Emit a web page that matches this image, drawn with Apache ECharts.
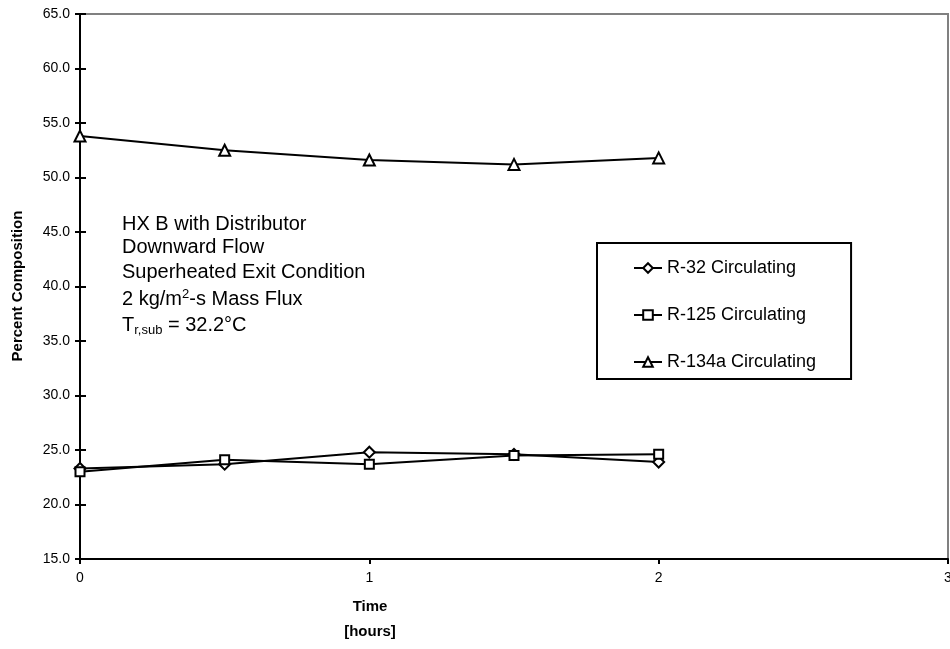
<!DOCTYPE html>
<html>
<head>
<meta charset="utf-8">
<script src="https://cdn.jsdelivr.net/npm/echarts@6/dist/echarts.min.js"></script>
<style>html,body{margin:0;padding:0;background:#fff}#c{width:950px;height:649px}</style>
</head>
<body>
<div id="c"></div>
<script>
const timeHours = [0, 0.5, 1, 1.5, 2];
const r32 = [23.3, 23.7, 24.8, 24.6, 23.9];
const r125 = [23.0, 24.1, 23.7, 24.5, 24.6];
const r134a = [53.8, 52.5, 51.6, 51.2, 51.8];
const seriesNames = ['R-32 Circulating', 'R-125 Circulating', 'R-134a Circulating'];
const seriesSymbols = ['diamond', 'rect', 'triangle'];
const seriesValues = [r32, r125, r134a];
const noteLines = ['HX B with Distributor', 'Downward Flow', 'Superheated Exit Condition', '2 kg/m{sup|2}-s Mass Flux', 'T{sub|r,sub} = 32.2°C'];

const FONT = 'Liberation Sans, Arial, sans-serif';
const chart = echarts.init(document.getElementById('c'));

const series = seriesNames.map((n, i) => ({
  name: n,
  type: 'line',
  data: timeHours.map((t, j) => [t, seriesValues[i][j]]),
  symbol: seriesSymbols[i],
  symbolSize: seriesSymbols[i] === 'rect' ? 9 : 11,
  lineStyle: {color: '#000', width: 2},
  itemStyle: {color: '#fff', borderColor: '#000', borderWidth: 2},
  animation: false,
  z: 3
}));

const noteY = [224, 247, 272, 299, 325];
const graphics = noteLines.map((s, i) => ({
  type: 'text', x: 122, y: noteY[i],
  style: {
    text: s, fill: '#000', font: '20px ' + FONT, verticalAlign: 'middle',
    rich: {
      sup: {fontSize: 13, fontFamily: FONT, padding: [0,0,10,0], fill: '#000'},
      sub: {fontSize: 13, fontFamily: FONT, padding: [10,0,0,0], fill: '#000'}
    }
  }
}));
graphics.push({
  type: 'text', x: 18, y: 286, rotation: Math.PI / 2,
  style: {text: 'Percent Composition', font: 'bold 15px ' + FONT, fill: '#000', align: 'center', verticalAlign: 'middle'}
});
graphics.push({
  type: 'text', x: 370, y: 607,
  style: {text: 'Time', font: 'bold 15px ' + FONT, fill: '#000', align: 'center', verticalAlign: 'middle'}
});
graphics.push({
  type: 'text', x: 370, y: 632,
  style: {text: '[hours]', font: 'bold 15px ' + FONT, fill: '#000', align: 'center', verticalAlign: 'middle'}
});

chart.setOption({
  animation: false,
  backgroundColor: '#fff',
  grid: {left: 80, right: 2, top: 14, bottom: 90, outerBoundsMode: 'none', containLabel: false, show: true, borderColor: '#808080', borderWidth: 2, backgroundColor: 'transparent'},
  xAxis: [{
    type: 'value', min: 0, max: 3, interval: 1,
    axisLine: {show: true, lineStyle: {color: '#000', width: 2}},
    axisTick: {show: true, length: 5, lineStyle: {color: '#000', width: 2}},
    axisLabel: {color: '#000', fontSize: 14, fontFamily: FONT, margin: 12},
    splitLine: {show: false}
  }],
  yAxis: [{
    type: 'value', min: 15, max: 65, interval: 5,
    axisLine: {show: true, lineStyle: {color: '#000', width: 2}},
    axisTick: {show: true, length: 5, lineStyle: {color: '#000', width: 2}},
    axisLabel: {color: '#000', fontSize: 14, fontFamily: FONT, margin: 10, formatter: v => v.toFixed(1)},
    splitLine: {show: false}
  }, {
    type: 'value', min: 15, max: 65, interval: 5, position: 'left', offset: 0,
    axisLine: {show: false},
    axisTick: {show: true, inside: true, length: 6, lineStyle: {color: '#000', width: 2}},
    axisLabel: {show: false},
    splitLine: {show: false}
  }],
  legend: {
    orient: 'vertical', left: 597, top: 243,
    padding: [16, 35, 8, 36],
    itemGap: 29, itemWidth: 28, itemHeight: 12, itemTextGap: 4,
    borderColor: '#000', borderWidth: 2, backgroundColor: '#fff',
    textStyle: {color: '#000', fontSize: 18, fontFamily: FONT, lineHeight: 18},
    data: seriesNames
  },
  series: series,
  graphic: graphics
});
</script>
</body>
</html>
